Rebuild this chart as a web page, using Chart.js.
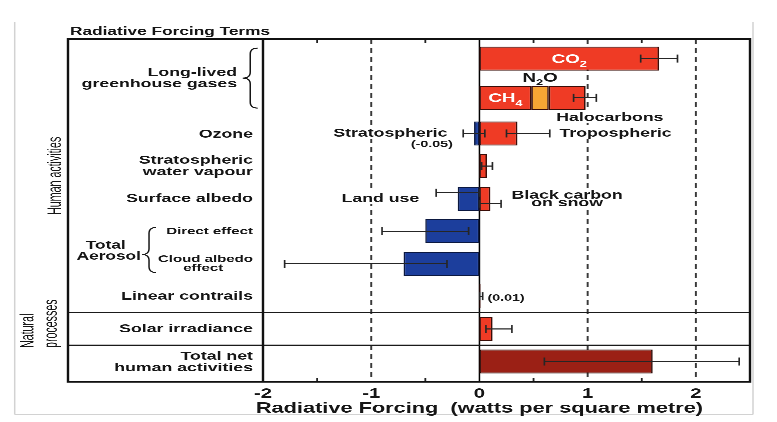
<!DOCTYPE html>
<html><head><meta charset="utf-8">
<script src="https://cdn.jsdelivr.net/npm/chart.js@4/dist/chart.umd.min.js"></script>
<style>html,body{margin:0;padding:0;background:#fff;overflow:hidden}
#c{display:block;width:777px;height:422px}</style>
</head><body>
<canvas id="c" width="518" height="422" style="width:777px;height:422px"></canvas>
<script>
// ---------- data ----------
const llghgRows = ['CO₂', 'CH₄, N₂O, Halocarbons'];
const co2AndCh4 = [1.66, 0.48];
const co2AndCh4Low = [1.49, null];
const co2AndCh4High = [1.83, null];
const n2o = [null, 0.16];
const halocarbons = [null, 0.34];
const halocarbonsLow = [null, 0.87];
const halocarbonsHigh = [null, 1.08];

const otherRows = ['Ozone', 'Stratospheric water vapour', 'Surface albedo', 'Direct effect',
  'Cloud albedo effect', 'Linear contrails', 'Solar irradiance', 'Total net human activities'];
const warming = [0.35, 0.07, 0.10, null, null, 0.01, 0.12, null];
const warmingLow = [0.25, 0.02, 0.00, null, null, 0.003, 0.06, null];
const warmingHigh = [0.65, 0.12, 0.20, null, null, 0.03, 0.30, null];
const cooling = [-0.05, null, -0.20, -0.50, -0.70, null, null, null];
const coolingLow = [-0.15, null, -0.40, -0.90, -1.80, null, null, null];
const coolingHigh = [0.05, null, 0.00, -0.10, -0.30, null, null, null];
const totalNet = [null, null, null, null, null, null, null, 1.60];
const totalNetLow = [null, null, null, null, null, null, null, 0.60];
const totalNetHigh = [null, null, null, null, null, null, null, 2.40];

const xTickLabels = [-2, -1, 0, 1, 2];
const dashedAt = [-1, 1, 2];
const minorTicks = [-1.5, -0.5, 0.5, 1.5];

// ---------- styles ----------
const FAMILY = "'Liberation Sans', Arial, Helvetica, sans-serif";
const RED = '#ef3b25', ORANGE = '#f7a534', BLUE = '#1c3e9c', DARKRED = '#9b2015';
const INK = '#161616';
const FRAME_LEFT = 45.33;
const FRAME_BOTTOM_EXTRA = 4;
const errShift = { 'Surface albedo': { cooling: -6, warming: 5 } };

function bars(key, label, data, yAxisID, bg, border, low, high) {
  return { key, label, data, yAxisID, xAxisID: 'x', stack: 'forcing', grouped: false,
    backgroundColor: bg, borderColor: border, borderWidth: 1, borderSkipped: false,
    categoryPercentage: 1, barPercentage: 0.74, maxBarThickness: 24, errLow: low, errHigh: high };
}

const datasets = [
  bars('llghg', 'CO₂ / CH₄', co2AndCh4, 'y1', RED, '#3a0d08', co2AndCh4Low, co2AndCh4High),
  bars('n2o', 'N₂O', n2o, 'y1', ORANGE, '#3a0d08', null, null),
  bars('halo', 'Halocarbons', halocarbons, 'y1', RED, '#3a0d08', halocarbonsLow, halocarbonsHigh),
  bars('warming', 'Warming', warming, 'y2', RED, '#3a0d08', warmingLow, warmingHigh),
  bars('cooling', 'Cooling', cooling, 'y2', BLUE, '#0b1840', coolingLow, coolingHigh),
  bars('total', 'Total net', totalNet, 'y2', DARKRED, '#2a0703', totalNetLow, totalNetHigh)
];

function line(ctx, x1, y1, x2, y2) { ctx.beginPath(); ctx.moveTo(x1, y1); ctx.lineTo(x2, y2); ctx.stroke(); }

function txt(ctx, s, x, y, o = {}) {
  const size = o.size || 11.8, weight = o.weight || 'bold', align = o.align || 'left';
  ctx.font = `${weight} ${size}px ${FAMILY}`;
  ctx.textAlign = align; ctx.textBaseline = 'alphabetic';
  if (o.bg) {
    const w = ctx.measureText(s).width;
    const x0 = align === 'left' ? x : align === 'right' ? x - w : x - w / 2;
    ctx.fillStyle = o.bg; ctx.fillRect(x0 - 1, y - size * 0.55, w + 2, size * 1.1);
    if (o.bgOnly) return;
  }
  ctx.fillStyle = o.color || INK;
  ctx.fillText(s, x, y + size * 0.36);
}

function textWidth(ctx, s, size) {
  ctx.font = `bold ${size}px ${FAMILY}`;
  return ctx.measureText(s).width;
}

function rich(ctx, parts, x, y, o = {}) {
  const size = o.size || 12, sub = size * 0.68;
  const fonts = parts.map(p => `bold ${p[1] ? sub : size}px ${FAMILY}`);
  let w = 0;
  const ws = parts.map((p, i) => { ctx.font = fonts[i]; const m = ctx.measureText(p[0]).width; w += m; return m; });
  let cx = o.align === 'left' ? x : o.align === 'right' ? x - w : x - w / 2;
  ctx.textAlign = 'left'; ctx.textBaseline = 'alphabetic'; ctx.fillStyle = o.color || INK;
  parts.forEach((p, i) => {
    ctx.font = fonts[i];
    ctx.fillText(p[0], cx, y + size * 0.36 + (p[1] ? size * 0.3 : 0));
    cx += ws[i];
  });
}

function brace(ctx, xTip, xEnd, yTop, yBot, tipAt = 0.5) {
  const xm = (xTip + xEnd) / 2, yc = yTop + (yBot - yTop) * tipAt, r = Math.min(6, (yBot - yTop) / 6);
  ctx.beginPath();
  ctx.moveTo(xEnd, yTop);
  ctx.quadraticCurveTo(xm, yTop, xm, yTop + r);
  ctx.lineTo(xm, yc - r);
  ctx.quadraticCurveTo(xm, yc, xTip, yc);
  ctx.quadraticCurveTo(xm, yc, xm, yc + r);
  ctx.lineTo(xm, yBot - r);
  ctx.quadraticCurveTo(xm, yBot, xEnd, yBot);
  ctx.stroke();
}

function rotated(ctx, s, x, y, align) {
  ctx.save();
  ctx.translate(x, y); ctx.rotate(-Math.PI / 2); ctx.scale(0.82, 1);
  ctx.font = `13px ${FAMILY}`; ctx.fillStyle = INK;
  ctx.textAlign = align; ctx.textBaseline = 'alphabetic';
  ctx.fillText(s, 0, 0);
  ctx.restore();
}

const rfPlugin = {
  id: 'rf',
  beforeDatasetsDraw(chart) {
    const { ctx, chartArea: a, scales: { x, y2 } } = chart;
    const top = a.top, bottom = a.bottom + FRAME_BOTTOM_EXTRA;
    ctx.save();
    // light page border
    ctx.strokeStyle = '#d2d2d2'; ctx.lineWidth = 1;
    line(ctx, 9.8, 22, 9.8, 414.5); line(ctx, 9.8, 414.5, 502, 414.5); line(ctx, 502, 22, 502, 414.5);
    // dashed reference lines
    ctx.strokeStyle = '#3a3a3a'; ctx.lineWidth = 1.3; ctx.setLineDash([5, 4]);
    dashedAt.forEach(v => { const p = x.getPixelForValue(v); line(ctx, p, top, p, bottom); });
    ctx.setLineDash([]);
    // minor ticks
    ctx.strokeStyle = '#222'; ctx.lineWidth = 1.2;
    minorTicks.forEach(v => { const p = x.getPixelForValue(v); line(ctx, p, top, p, top + 4); line(ctx, p, bottom, p, bottom - 4); });
    // zero line
    ctx.strokeStyle = '#000'; ctx.lineWidth = 1;
    const x0 = x.getPixelForValue(0); line(ctx, x0, top, x0, bottom);
    // separators (natural processes / total)
    ctx.lineWidth = 1.3; ctx.strokeStyle = '#1a1a1a';
    [[5, 6], [6, 7]].forEach(([i, j]) => {
      const ys = (y2.getPixelForValue(i) + y2.getPixelForValue(j)) / 2;
      line(ctx, FRAME_LEFT, ys, a.right, ys);
    });
    // frame
    ctx.lineWidth = 1.6; ctx.strokeStyle = '#111';
    ctx.strokeRect(FRAME_LEFT, top, a.right - FRAME_LEFT, bottom - top);
    line(ctx, a.left, top, a.left, bottom);
    ctx.restore();
  },
  afterDatasetsDraw(chart) {
    const { ctx, chartArea: a, scales: { x, y1, y2 } } = chart;
    const top = a.top;
    const rowY = name => {
      let i = y1.getLabels().indexOf(name);
      if (i >= 0) return y1.getPixelForValue(i);
      i = y2.getLabels().indexOf(name);
      return y2.getPixelForValue(i);
    };
    ctx.save();
    // error bars
    ctx.strokeStyle = '#262626'; ctx.lineWidth = 1.1;
    chart.data.datasets.forEach((d, i) => {
      if (!d.errLow) return;
      const meta = chart.getDatasetMeta(i);
      const labels = chart.scales[d.yAxisID].getLabels();
      meta.data.forEach((bar, j) => {
        const lo = d.errLow[j], hi = d.errHigh[j];
        if (lo == null || hi == null || d.data[j] == null) return;
        const shift = (errShift[labels[j]] || {})[d.key] || 0;
        const y = bar.y + shift;
        const pl = x.getPixelForValue(lo), ph = x.getPixelForValue(hi);
        line(ctx, pl, y, ph, y);
        line(ctx, pl, y - 4, pl, y + 4);
        line(ctx, ph, y - 4, ph, y + 4);
      });
    });

    // annotations inside plot
    const ch4Row = llghgRows[1];
    const W = '#fff';
    rich(ctx, [['CO'], ['2', 1]], x.getPixelForValue(co2AndCh4[0] / 2), rowY(llghgRows[0]), { color: W, size: 12.5 });
    rich(ctx, [['CH'], ['4', 1]], x.getPixelForValue(co2AndCh4[1] / 2), rowY(ch4Row), { color: W, size: 12.5 });
    rich(ctx, [['N'], ['2', 1], ['O']], x.getPixelForValue(co2AndCh4[1] + n2o[1] / 2), rowY(ch4Row) - 20.5, { size: 12.5 });
    txt(ctx, 'Halocarbons', x.getPixelForValue(0.71), rowY(ch4Row) + 19, { bg: W });
    txt(ctx, 'Tropospheric', x.getPixelForValue(0.74), rowY('Ozone') - 1, { bg: W });
    txt(ctx, 'Stratospheric', x.getPixelForValue(-0.296), rowY('Ozone') - 1, { align: 'right', bg: W });
    txt(ctx, '(-0.05)', x.getPixelForValue(-0.44), rowY('Ozone') + 10, { align: 'center', size: 9.5 });
    txt(ctx, 'Land use', x.getPixelForValue(-0.556), rowY('Surface albedo') - 1, { align: 'right', bg: W });
    const bcX = x.getPixelForValue(0.81), alb = rowY('Surface albedo');
    txt(ctx, 'Black carbon', bcX, alb - 4.3, { align: 'center', bg: W, bgOnly: true });
    txt(ctx, 'on snow', bcX, alb + 3.4, { align: 'center', bg: W, bgOnly: true });
    txt(ctx, 'Black carbon', bcX, alb - 4.3, { align: 'center' });
    txt(ctx, 'on snow', bcX, alb + 3.4, { align: 'center' });
    txt(ctx, '(0.01)', x.getPixelForValue(0.074), rowY('Linear contrails') + 1, { size: 9.5 });

    // left label column
    const R = a.left - 6.7;
    const llMid = (rowY(llghgRows[0]) + rowY(llghgRows[1])) / 2;
    txt(ctx, 'Long-lived', a.left - 17.3, llMid - 6.5, { align: 'right' });
    txt(ctx, 'greenhouse gases', a.left - 17.3, llMid + 5, { align: 'right' });
    ctx.strokeStyle = INK; ctx.lineWidth = 1;
    brace(ctx, a.left - 13.5, a.left - 3.5, llMid - 30, llMid + 30);
    txt(ctx, 'Ozone', R, rowY('Ozone'), { align: 'right' });
    txt(ctx, 'Stratospheric', R, rowY('Stratospheric water vapour') - 6.5, { align: 'right' });
    txt(ctx, 'water vapour', R, rowY('Stratospheric water vapour') + 5, { align: 'right' });
    txt(ctx, 'Surface albedo', R, rowY('Surface albedo') - 1, { align: 'right' });
    txt(ctx, 'Direct effect', R, rowY('Direct effect') - 0.5, { align: 'right', size: 10 });
    txt(ctx, 'Cloud albedo', R, rowY('Cloud albedo effect') - 5.5, { align: 'right', size: 10 });
    const cloudC = R - textWidth(ctx, 'Cloud albedo', 10) / 2 - 1.5;
    txt(ctx, 'effect', cloudC, rowY('Cloud albedo effect') + 3.5, { align: 'center', size: 10 });
    const aerMid = (rowY('Direct effect') + rowY('Cloud albedo effect')) / 2;
    txt(ctx, 'Total', 70.5, aerMid - 3, { align: 'center', size: 11.5 });
    txt(ctx, 'Aerosol', 72.5, aerMid + 8, { align: 'center', size: 11.5 });
    brace(ctx, 94.7, 104, aerMid - 20, aerMid + 25, 0.6);
    txt(ctx, 'Linear contrails', R, rowY('Linear contrails') - 1, { align: 'right' });
    txt(ctx, 'Solar irradiance', R, rowY('Solar irradiance') - 1, { align: 'right' });
    txt(ctx, 'Total net', R, rowY('Total net human activities') - 6, { align: 'right' });
    txt(ctx, 'human activities', R, rowY('Total net human activities') + 5.5, { align: 'right' });

    // rotated group labels
    const sep1 = (y2.getPixelForValue(5) + y2.getPixelForValue(6)) / 2;
    rotated(ctx, 'Human activities', 40.5, (top + sep1) / 2, 'center');
    rotated(ctx, 'Natural', 22.3, 348, 'left');
    rotated(ctx, 'processes', 38, 348, 'left');

    // titles
    txt(ctx, 'Radiative Forcing Terms', 46.7, 31, { size: 11.5 });
    txt(ctx, 'Radiative Forcing  (watts per square metre)', x.getPixelForValue(0), 407.5, { align: 'center', size: 14.5 });
    ctx.restore();
  }
};

const hiddenAxis = { grid: { display: false, drawTicks: false }, border: { display: false }, ticks: { display: false } };

new Chart(document.getElementById('c'), {
  type: 'bar',
  data: { datasets },
  options: {
    indexAxis: 'y',
    responsive: false,
    devicePixelRatio: 3,
    animation: false,
    events: [],
    layout: { padding: { left: 175.33, right: 18, top: 39, bottom: 12 } },
    plugins: { legend: { display: false }, tooltip: { enabled: false } },
    scales: {
      x: {
        type: 'linear', min: -2, max: 2.5, stacked: true, position: 'bottom',
        grid: { display: false, drawTicks: false }, border: { display: false },
        ticks: {
          stepSize: 0.5, autoSkip: false, maxRotation: 0, padding: 8, color: INK,
          font: { family: FAMILY, size: 13.5, weight: 'bold' },
          callback: v => (xTickLabels.includes(v) ? String(v) : '')
        }
      },
      y1: Object.assign({
        type: 'category', labels: llghgRows, position: 'left', stack: 'rows', stackWeight: 2.4, weight: 1,
        offset: true, stacked: true
      }, hiddenAxis),
      y2: Object.assign({
        type: 'category', labels: otherRows, position: 'left', stack: 'rows', stackWeight: 8, weight: 0,
        offset: true, stacked: true
      }, hiddenAxis)
    }
  },
  plugins: [rfPlugin]
});
</script>
</body></html>
